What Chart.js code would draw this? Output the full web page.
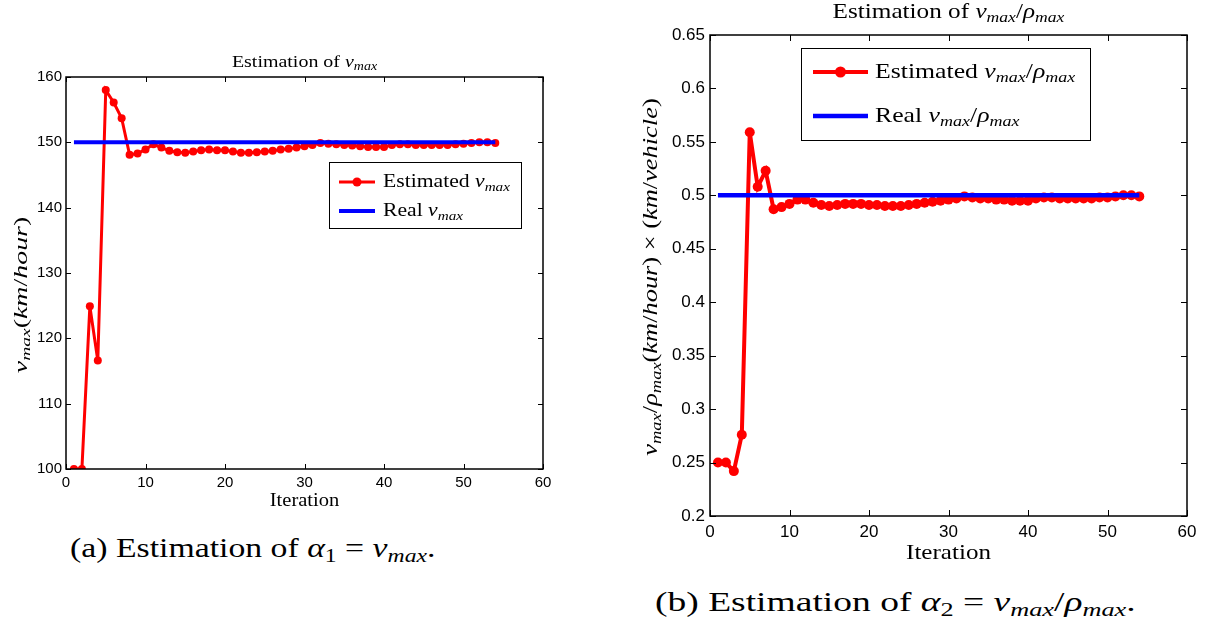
<!DOCTYPE html>
<html>
<head>
<meta charset="utf-8">
<script src="https://cdn.jsdelivr.net/npm/chart.js@4.4.1/dist/chart.umd.min.js"></script>
<style>
  html, body { margin:0; padding:0; background:#fff; }
  body { width:1206px; height:622px; position:relative; overflow:hidden; }
  canvas { position:absolute; }
  .cap { position:absolute; font-family:'Liberation Serif', serif; color:#000; white-space:nowrap; line-height:30px; transform-origin:0 50%; }
  .cap sub { font-size:70%; vertical-align:-0.25em; line-height:0; }
</style>
</head>
<body>
<canvas id="ca" width="600" height="520" style="left:0;top:0;width:600px;height:520px"></canvas>
<canvas id="cb" width="586" height="570" style="left:620px;top:0;width:586px;height:570px"></canvas>
<div class="cap" style="left:70px;top:533px;font-size:27px;transform:scaleX(1.25)">(a) Estimation of <i>α</i><sub>1</sub> = <i>v<sub>max</sub></i>.</div>
<div class="cap" style="left:655px;top:587px;font-size:27px;transform:scaleX(1.39)">(b) Estimation of <i>α</i><sub>2</sub> = <i>v<sub>max</sub></i>/<i>ρ<sub>max</sub></i>.</div>
<script>
// ---------------- data ----------------
const iterations = [1,2,3,4,5,6,7,8,9,10,11,12,13,14,15,16,17,18,19,20,21,22,23,24,25,26,27,
  28,29,30,31,32,33,34,35,36,37,38,39,40,41,42,43,44,45,46,47,48,49,50,51,52,53,54];

const estimatedVmax = [100,100,124.9,116.6,158,156.1,153.7,148.1,148.3,148.9,149.7,149.2,148.7,148.5,
  148.4,148.6,148.8,148.9,148.8,148.8,148.6,148.4,148.4,148.5,148.6,148.7,148.9,149.0,149.2,149.4,
  149.6,149.9,149.8,149.7,149.6,149.5,149.4,149.3,149.3,149.3,149.6,149.7,149.7,149.6,149.6,149.6,
  149.6,149.6,149.7,149.8,149.9,150.0,150.0,149.9];
const realVmax = [150,150,150,150,150,150,150,150,150,150,150,150,150,150,150,150,150,150,150,150,
  150,150,150,150,150,150,150,150,150,150,150,150,150,150,150,150,150,150,150,150,150,150,150,150,
  150,150,150,150,150,150,150,150,150,150];

const estimatedRatio = [0.25,0.25,0.242,0.276,0.559,0.508,0.523,0.487,0.489,0.492,0.496,0.496,0.493,
  0.491,0.490,0.491,0.492,0.492,0.492,0.491,0.491,0.490,0.490,0.490,0.491,0.492,0.493,0.494,0.495,
  0.496,0.497,0.499,0.498,0.497,0.497,0.496,0.496,0.495,0.495,0.495,0.497,0.498,0.498,0.497,0.497,
  0.497,0.497,0.497,0.498,0.498,0.499,0.5,0.5,0.499];
const realRatio = [0.5,0.5,0.5,0.5,0.5,0.5,0.5,0.5,0.5,0.5,0.5,0.5,0.5,0.5,0.5,0.5,0.5,0.5,0.5,0.5,
  0.5,0.5,0.5,0.5,0.5,0.5,0.5,0.5,0.5,0.5,0.5,0.5,0.5,0.5,0.5,0.5,0.5,0.5,0.5,0.5,0.5,0.5,0.5,0.5,
  0.5,0.5,0.5,0.5,0.5,0.5,0.5,0.5,0.5,0.5];

const xTickValues = [0,10,20,30,40,50,60];
const xTickLabels = ['0','10','20','30','40','50','60'];
const yTickValuesA = [100,110,120,130,140,150,160];
const yTickLabelsA = ['100','110','120','130','140','150','160'];
const yTickValuesB = [0.2,0.25,0.3,0.35,0.4,0.45,0.5,0.55,0.6,0.65];
const yTickLabelsB = ['0.2','0.25','0.3','0.35','0.4','0.45','0.5','0.55','0.6','0.65'];

// ---------------- rich text helper ----------------
const SERIF = "'Liberation Serif', serif";
function fontFor(kind, size) {
  const sub = kind.indexOf('s') >= 0;
  const it = kind.indexOf('i') >= 0;
  const sz = sub ? size * 0.7 : size;
  return (it ? 'italic ' : '') + sz + 'px ' + SERIF;
}
function richWidth(ctx, parts, size) {
  let w = 0;
  for (const [t, k] of parts) { ctx.font = fontFor(k, size); w += ctx.measureText(t).width; }
  return w;
}
function drawRich(ctx, T, x, y, align) {
  const size = T.size, sx = T.sx || 1;
  const w = richWidth(ctx, T.parts, size) * sx;
  const x0 = align === 'center' ? x - w / 2 : (align === 'right' ? x - w : x);
  ctx.save();
  ctx.translate(x0, y);
  ctx.scale(sx, 1);
  ctx.textBaseline = 'middle';
  ctx.textAlign = 'left';
  ctx.fillStyle = '#000';
  let cx = 0;
  for (const [t, k] of T.parts) {
    ctx.font = fontFor(k, size);
    const dy = k.indexOf('s') >= 0 ? size * 0.28 : 0;
    ctx.fillText(t, cx, dy);
    cx += ctx.measureText(t).width;
  }
  ctx.restore();
}

// ---------------- frame / text plugin ----------------
const framePlugin = {
  id: 'frame',
  afterDraw(chart, args, o) {
    const ctx = chart.ctx;
    const a = chart.chartArea;
    const xs = chart.scales.x, ys = chart.scales.y;
    ctx.save();
    ctx.strokeStyle = '#000';
    ctx.lineWidth = o.axisWidth;
    ctx.strokeRect(a.left, a.top, a.right - a.left, a.bottom - a.top);
    ctx.lineWidth = 1;
    ctx.beginPath();
    for (const t of xs.ticks) {
      const px = Math.round(xs.getPixelForValue(t.value)) + 0.5;
      ctx.moveTo(px, a.bottom); ctx.lineTo(px, a.bottom - o.tickLen);
      ctx.moveTo(px, a.top); ctx.lineTo(px, a.top + o.tickLen);
    }
    for (const t of ys.ticks) {
      const py = Math.round(ys.getPixelForValue(t.value)) + 0.5;
      ctx.moveTo(a.left, py); ctx.lineTo(a.left + o.tickLen, py);
      ctx.moveTo(a.right, py); ctx.lineTo(a.right - o.tickLen, py);
    }
    ctx.stroke();
    drawRich(ctx, o.title, (a.left + a.right) / 2, o.title.y, 'center');
    drawRich(ctx, o.xLabel, (a.left + a.right) / 2, o.xLabel.y, 'center');
    ctx.save();
    ctx.translate(o.yLabel.x, o.yLabel.cy);
    ctx.rotate(-Math.PI / 2);
    drawRich(ctx, o.yLabel, 0, 0, 'center');
    ctx.restore();
    const L = o.legend;
    ctx.fillStyle = '#fff';
    ctx.fillRect(L.x, L.y, L.w, L.h);
    ctx.strokeStyle = '#000';
    ctx.lineWidth = 1;
    ctx.strokeRect(L.x + 0.5, L.y + 0.5, L.w, L.h);
    L.items.forEach((it, i) => {
      const ds = chart.data.datasets[it.ds];
      const cy = L.y + L.rows[i];
      ctx.strokeStyle = ds.borderColor;
      ctx.lineWidth = ds.borderWidth;
      ctx.beginPath();
      ctx.moveTo(L.x + L.lineX0, cy); ctx.lineTo(L.x + L.lineX1, cy);
      ctx.stroke();
      if (ds.pointRadius > 0) {
        ctx.fillStyle = ds.backgroundColor;
        ctx.beginPath();
        ctx.arc(L.x + (L.lineX0 + L.lineX1) / 2, cy, ds.pointRadius + 0.5, 0, Math.PI * 2);
        ctx.fill();
      }
      drawRich(ctx, { parts: it.text, size: L.size, sx: L.sx }, L.x + L.textX, cy, 'left');
    });
    ctx.restore();
  }
};

function makeChart(id, est, real, yVals, yLabels, cfg) {
  const xy = (arr) => iterations.map((x, i) => ({ x: x, y: arr[i] }));
  return new Chart(document.getElementById(id), {
    type: 'line',
    data: {
      datasets: [
        { label: 'Estimated', data: xy(est), borderColor: '#ff0000', backgroundColor: '#ff0000',
          borderWidth: cfg.redWidth, pointRadius: cfg.markerR, pointBorderWidth: 0,
          pointHoverRadius: cfg.markerR, tension: 0, order: 1 },
        { label: 'Real', data: xy(real), borderColor: '#0000ff', backgroundColor: '#0000ff',
          borderWidth: cfg.blueWidth, pointRadius: 0, tension: 0, order: 0 }
      ]
    },
    options: {
      responsive: false, animation: false, events: [],
      layout: { padding: cfg.padding },
      plugins: { legend: { display: false }, tooltip: { enabled: false }, title: { display: false },
        frame: cfg.frame },
      scales: {
        x: {
          type: 'linear', min: 0, max: 60,
          afterBuildTicks: s => { s.ticks = xTickValues.map(v => ({ value: v })); },
          ticks: { callback: (v, i) => xTickLabels[i], color: '#000', maxRotation: 0,
            font: { family: "'Liberation Sans', Arial, sans-serif", size: cfg.tickSize }, padding: cfg.xPad },
          grid: { display: false, drawTicks: false }, border: { display: false },
          afterFit: s => { s.height = cfg.xAxisH; }
        },
        y: {
          type: 'linear', min: yVals[0], max: yVals[yVals.length - 1],
          afterBuildTicks: s => { s.ticks = yVals.map(v => ({ value: v })); },
          ticks: { callback: (v, i) => yLabels[i], color: '#000',
            font: { family: "'Liberation Sans', Arial, sans-serif", size: cfg.tickSize }, padding: cfg.yPad },
          grid: { display: false, drawTicks: false }, border: { display: false },
          afterFit: s => { s.width = cfg.yAxisW; }
        }
      }
    },
    plugins: [framePlugin]
  });
}

// Chart (a)
makeChart('ca', estimatedVmax, realVmax, yTickValuesA, yTickLabelsA, {
  redWidth: 3, blueWidth: 4, markerR: 4, tickSize: 15, xPad: 5, yPad: 4,
  yAxisW: 66, xAxisH: 20,
  padding: { left: 0, top: 77, right: 57, bottom: 520 - 469 - 20 },
  frame: {
    axisWidth: 1.5, tickLen: 5,
    title: { parts: [['Estimation of ', 'n'], ['v', 'i'], ['max', 'is']], y: 62, size: 17.5, sx: 1.14 },
    xLabel: { parts: [['Iteration', 'n']], y: 501, size: 18, sx: 1.14 },
    yLabel: { parts: [['v', 'i'], ['max', 'is'], ['(', 'n'], ['km', 'i'], ['/', 'n'], ['hour', 'i'], [')', 'n']],
      x: 22, cy: 295, size: 18, sx: 1.55 },
    legend: { x: 329, y: 162, w: 192, h: 66, rows: [20, 49], lineX0: 10, lineX1: 46, textX: 54, size: 19, sx: 1.14,
      items: [
        { ds: 0, text: [['Estimated ', 'n'], ['v', 'i'], ['max', 'is']] },
        { ds: 1, text: [['Real ', 'n'], ['v', 'i'], ['max', 'is']] }
      ] }
  }
});

// Chart (b)
makeChart('cb', estimatedRatio, realRatio, yTickValuesB, yTickLabelsB, {
  redWidth: 4, blueWidth: 4.5, markerR: 5, tickSize: 17, xPad: 6, yPad: 5,
  yAxisW: 90, xAxisH: 26,
  padding: { left: 0, top: 35, right: 586 - 567, bottom: 570 - 516 - 26 },
  frame: {
    axisWidth: 1.5, tickLen: 6,
    title: { parts: [['Estimation of ', 'n'], ['v', 'i'], ['max', 'is'], ['/', 'n'], ['ρ', 'i'], ['max', 'is']],
      y: 12, size: 21, sx: 1.2 },
    xLabel: { parts: [['Iteration', 'n']], y: 553, size: 22, sx: 1.14 },
    yLabel: { parts: [['v', 'i'], ['max', 'is'], ['/', 'n'], ['ρ', 'i'], ['max', 'is'], ['(', 'n'], ['km', 'i'],
      ['/', 'n'], ['hour', 'i'], [')', 'n'], [' × ', 'n'], ['(', 'n'], ['km', 'i'], ['/', 'n'],
      ['vehicle', 'i'], [')', 'n']], x: 31, cy: 277, size: 22, sx: 1.2 },
    legend: { x: 181, y: 48, w: 289, h: 92, rows: [24, 68], lineX0: 12, lineX1: 67, textX: 74, size: 22, sx: 1.17,
      items: [
        { ds: 0, text: [['Estimated ', 'n'], ['v', 'i'], ['max', 'is'], ['/', 'n'], ['ρ', 'i'], ['max', 'is']] },
        { ds: 1, text: [['Real ', 'n'], ['v', 'i'], ['max', 'is'], ['/', 'n'], ['ρ', 'i'], ['max', 'is']] }
      ] }
  }
});
</script>
</body>
</html>
